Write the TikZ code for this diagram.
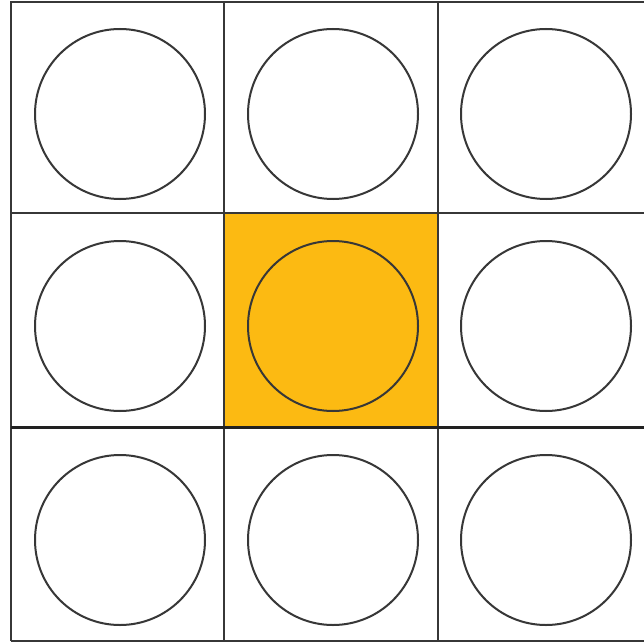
\documentclass[tikz,border=0pt]{standalone}
\definecolor{cellyellow}{RGB}{252,186,18}
\definecolor{linegray}{RGB}{55,55,55}
\tikzset{
  grid line/.style={draw=linegray, line width=1.3pt},
  bold line/.style={draw=linegray!60!black, line width=3pt},
  ring/.style={circle, draw=linegray, line width=2pt, minimum size=170pt, inner sep=0pt},
}
\begin{document}
\begin{tikzpicture}[x=1pt,y=-1pt]
\useasboundingbox (0,0) rectangle (644,644);
\fill[white] (0,0) rectangle (644,644);
\fill[cellyellow] (224,213) rectangle (438,427);
% circles
\foreach \cx/\c in {120/1,333/2,546/3}{
  \foreach \cy/\r in {114/1,326/2,540/3}{
    \node[ring] (c\r\c) at (\cx,\cy) {};
  }
}
% grid
\draw[grid line] (11,641) -- (11,2) -- (644,2);
\draw[grid line] (11,641) -- (644,641);
\draw[grid line] (224,2) -- (224,641);
\draw[grid line] (438,2) -- (438,641);
\draw[grid line] (11,213) -- (644,213);
\draw[bold line] (11,427) -- (644,427);
\end{tikzpicture}
\end{document}
